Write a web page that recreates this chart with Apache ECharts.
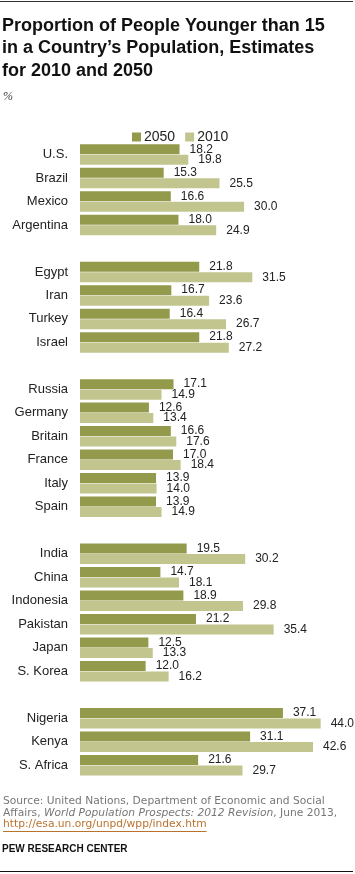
<!DOCTYPE html>
<html><head><meta charset="utf-8">
<script src="https://cdn.jsdelivr.net/npm/echarts@6/dist/echarts.min.js"></script>
<style>html,body{margin:0;padding:0;background:#fff}#c{width:355px;height:874px}</style>
</head><body><div id="c"></div>
<script>
const categories = ['U.S.','Brazil','Mexico','Argentina',' ','Egypt','Iran','Turkey','Israel','  ','Russia','Germany','Britain','France','Italy','Spain','   ','India','China','Indonesia','Pakistan','Japan','S. Korea','    ','Nigeria','Kenya','S. Africa'];
const values2050 = [18.2,15.3,16.6,18.0,null,21.8,16.7,16.4,21.8,null,17.1,12.6,16.6,17.0,13.9,13.9,null,19.5,14.7,18.9,21.2,12.5,12.0,null,37.1,31.1,21.6];
const values2010 = [19.8,25.5,30.0,24.9,null,31.5,23.6,26.7,27.2,null,14.9,13.4,17.6,18.4,14.0,14.9,null,30.2,18.1,29.8,35.4,13.3,16.2,null,44.0,42.6,29.7];
const seriesNames = ['2050','2010'];

const linkText = 'http://esa.un.org/unpd/wpp/index.htm';
const srcFont = '10.7px "DejaVu Sans"';
const mctx = document.createElement('canvas').getContext('2d');
mctx.font = srcFont;
const linkW = mctx.measureText(linkText).width;

const chart = echarts.init(document.getElementById('c'), null, {renderer:'canvas'});
const lbl = {show:true, position:'right', distance:10, color:'#222', fontSize:12, fontFamily:'Liberation Sans', formatter:p=>p.value==null?'':p.value.toFixed(1)};
chart.setOption({
  animation:false,
  legend:{data:seriesNames, left:127, top:125, itemWidth:9, itemHeight:9, itemGap:10, icon:'rect',
    textStyle:{fontSize:14, color:'#222', fontFamily:'Liberation Sans', padding:[0,0,0,-2]}},
  grid:{left:80, top:142.75, width:273.5, height:634.2, containLabel:false},
  xAxis:{type:'value', min:0, max:50, show:false},
  yAxis:{type:'category', data:categories, inverse:true, axisLine:{show:false}, axisTick:{show:false},
    axisLabel:{margin:12, fontSize:13, color:'#222', fontFamily:'Liberation Sans'}},
  series:[
    {name:seriesNames[0], type:'bar', data:values2050, barWidth:10, barGap:'5%', itemStyle:{color:'#939a4c'}, label:lbl},
    {name:seriesNames[1], type:'bar', data:values2010, barWidth:10, barGap:'5%', itemStyle:{color:'#c2c68e'}, label:lbl}
  ],
  graphic:[
    {type:'line', shape:{x1:0,y1:1.5,x2:353,y2:1.5}, style:{stroke:'#333', lineWidth:1}},
    {type:'text', left:2, top:15, style:{text:'Proportion of People Younger than 15\nin a Country\u2019s Population, Estimates\nfor 2010 and 2050', font:'bold 18px "Liberation Sans"', fill:'#111', lineHeight:22.3}},
    {type:'text', left:3, top:91, style:{text:'%', font:'italic 12px "Liberation Serif"', fill:'#444'}},
    {type:'text', left:3, top:796, style:{text:'Source: United Nations, Department of Economic and Social', font:srcFont, fill:'#777'}},
    {type:'text', left:3, top:807.5, style:{text:'{a|Affairs, }{b|World Population Prospects: 2012 Revision}{a|, June 2013,}', rich:{a:{font:srcFont, fill:'#777'}, b:{font:'italic ' + srcFont, fill:'#777'}}}},
    {type:'text', left:3, top:819, style:{text:linkText, font:srcFont, fill:'#b8732e'}},
    {type:'line', shape:{x1:3,y1:831.5,x2:3+linkW,y2:831.5}, style:{stroke:'#b8732e', lineWidth:1}},
    {type:'text', left:2, top:844, style:{text:'PEW RESEARCH CENTER', font:'bold 10px "Liberation Sans"', fill:'#111'}},
    {type:'line', shape:{x1:0,y1:871.5,x2:353,y2:871.5}, style:{stroke:'#111', lineWidth:1}}
  ]
});
</script></body></html>
